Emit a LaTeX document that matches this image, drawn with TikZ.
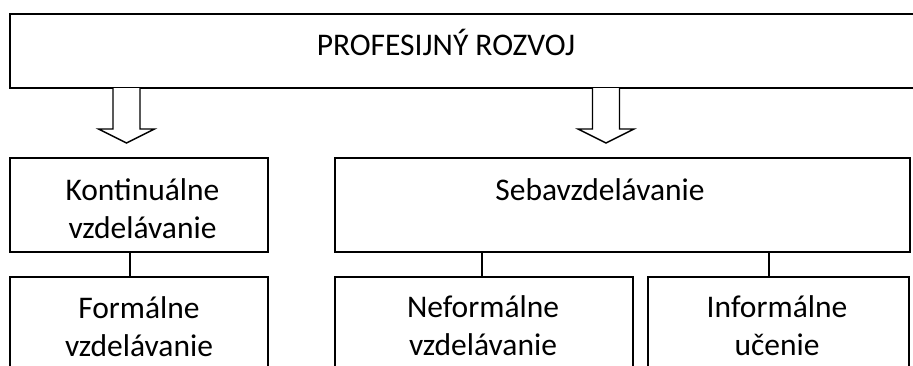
\documentclass[tikz,border=0pt]{standalone}
\usepackage{fontspec}
\setmainfont{Carlito}
\begin{document}
\begin{tikzpicture}[x=1pt,y=-1pt,
  box/.style={draw=black, line width=1.6pt, fill=white, rectangle, inner sep=0pt, outer sep=0pt, anchor=north west},
  lbl/.style={anchor=base, inner sep=0pt, outer sep=0pt, font=\fontsize{31.5}{38}\selectfont},
  conn/.style={draw=black, line width=1.6pt},
  blockarrow/.pic={\draw[line width=1.4pt, fill=white, line join=miter]
      (-13.5,0) -- (-13.5,41) -- (-28,41) -- (0,55) -- (28,41) -- (13.5,41) -- (13.5,0);}
]
\useasboundingbox (0,0) rectangle (913,365);
\clip (0,0) rectangle (913,365);
% top box
\node[box, minimum width=930pt, minimum height=74pt] (topbox) at (10,14) {};
\node[lbl] (toptext) at (446,55) {PROFESIJNÝ ROZVOJ};
% block arrows
\coordinate (a1) at (126.5,88);
\coordinate (a2) at (606,88);
\pic at (a1) {blockarrow};
\pic at (a2) {blockarrow};
% second row
\node[box, minimum width=258pt, minimum height=94pt] (kont) at (10,158) {};
\node[lbl] (konttext) at (142.5,200) {\begin{tabular}[t]{@{}c@{}}Kontinuálne\\vzdelávanie\end{tabular}};
\node[box, minimum width=575pt, minimum height=94pt] (seba) at (335,158) {};
\node[lbl] (sebatext) at (600,200) {Sebavzdelávanie};
% third row
\node[box, minimum width=258pt, minimum height=120pt] (form) at (10,277) {};
\node[lbl] (formtext) at (139,318) {\begin{tabular}[t]{@{}c@{}}Formálne\\vzdelávanie\end{tabular}};
\node[box, minimum width=298pt, minimum height=120pt] (nef) at (335,277) {};
\node[lbl] (neftext) at (483,317) {\begin{tabular}[t]{@{}c@{}}Neformálne\\vzdelávanie\end{tabular}};
\node[box, minimum width=261pt, minimum height=120pt] (inf) at (648,277) {};
\node[lbl] (inftext) at (777,317) {\begin{tabular}[t]{@{}c@{}}Informálne\\učenie\end{tabular}};
% connectors
\coordinate (c1) at (130,0);
\coordinate (c2) at (482,0);
\coordinate (c3) at (769,0);
\draw[conn] (kont.south -| c1) -- (form.north -| c1);
\draw[conn] (seba.south -| c2) -- (nef.north -| c2);
\draw[conn] (seba.south -| c3) -- (inf.north -| c3);
\end{tikzpicture}
\end{document}
